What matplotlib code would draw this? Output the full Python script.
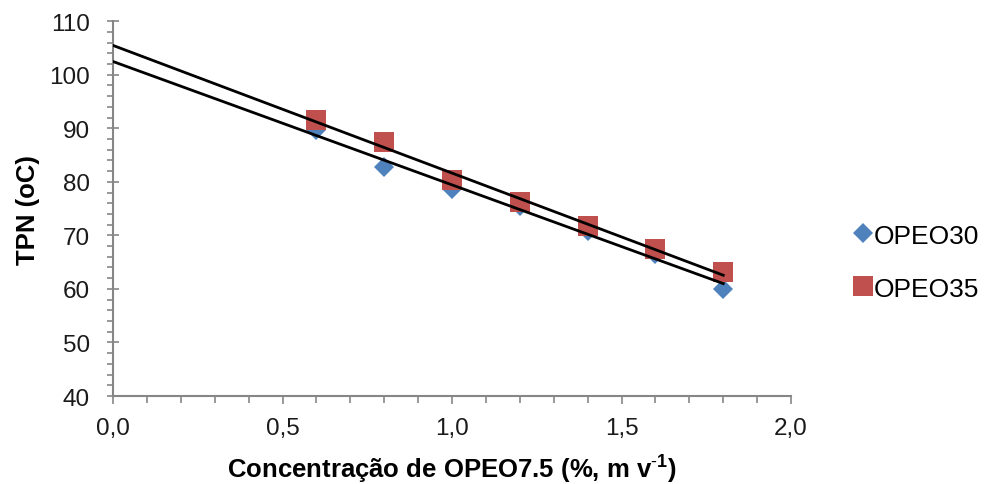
import numpy as np
import matplotlib
matplotlib.use("Agg")
import matplotlib.pyplot as plt
from matplotlib.ticker import MultipleLocator, FuncFormatter

plt.rcParams['font.family'] = ['Liberation Sans', 'DejaVu Sans']
plt.rcParams['mathtext.fontset'] = 'custom'
plt.rcParams['mathtext.rm'] = 'Liberation Sans'
plt.rcParams['mathtext.bf'] = 'Liberation Sans:bold'

conc = [0.6, 0.8, 1.0, 1.2, 1.4, 1.6, 1.8]
opeo30 = [89.6, 82.7, 78.6, 75.5, 70.8, 66.5, 60.0]
opeo35 = [91.5, 87.4, 80.4, 76.3, 71.8, 67.4, 63.2]

blue = '#4F81BD'
red = '#C0504D'
axis_grey = '#868686'

fig = plt.figure(figsize=(9.87, 4.85), dpi=100)
ax = fig.add_axes([0.1145, 0.1814, 0.687, 0.773])

ax.plot(conc, opeo30, linestyle='none', marker='D', ms=10.5, color=blue,
        markeredgewidth=0, label='OPEO30', zorder=3)
ax.plot(conc, opeo35, linestyle='none', marker='s', ms=14.5, color=red,
        markeredgewidth=0, label='OPEO35', zorder=4)

# linear trend lines, extended back to x = 0
xs = np.array([0.0, conc[-1]])
for ys in (opeo30, opeo35):
    m, b = np.polyfit(conc, ys, 1)
    ax.plot(xs, m * xs + b, color='black', lw=2.0, zorder=5)

ax.set_xlim(0, 2.0)
ax.set_ylim(40, 110)
ax.xaxis.set_major_locator(MultipleLocator(0.5))
ax.xaxis.set_minor_locator(MultipleLocator(0.1))
ax.yaxis.set_major_locator(MultipleLocator(10))
ax.yaxis.set_minor_locator(MultipleLocator(2))
ax.xaxis.set_major_formatter(FuncFormatter(lambda v, p: f"{v:.1f}".replace('.', ',')))

for s in ('top', 'right'):
    ax.spines[s].set_visible(False)
for s in ('left', 'bottom'):
    ax.spines[s].set_color(axis_grey)
    ax.spines[s].set_linewidth(1.5)

ax.tick_params(axis='both', which='major', color=axis_grey, width=1.2,
               labelsize=17.5, labelcolor='#1a1a1a')
ax.tick_params(axis='y', which='major', direction='inout', length=9, pad=12)
ax.tick_params(axis='y', which='minor', direction='out', length=4.5,
               color=axis_grey, width=1.2)
ax.tick_params(axis='x', which='major', direction='out', length=6, pad=9)
ax.tick_params(axis='x', which='minor', direction='out', length=5,
               color=axis_grey, width=1.2)

ax.set_ylabel('TPN (oC)', fontsize=18.5, fontweight='bold', labelpad=7)
ax.set_xlabel('Concentração de OPEO7.5 (%, m v$^{\\mathbf{\\text{-}1}}$)',
              fontsize=18.5, fontweight='bold', labelpad=9)

leg = ax.legend(loc='center left', bbox_to_anchor=(1.08, 0.357), frameon=False,
                fontsize=19, handlelength=0.55, handletextpad=0.12,
                labelspacing=1.1, borderaxespad=0)

fig.savefig('out.png', dpi=100)
